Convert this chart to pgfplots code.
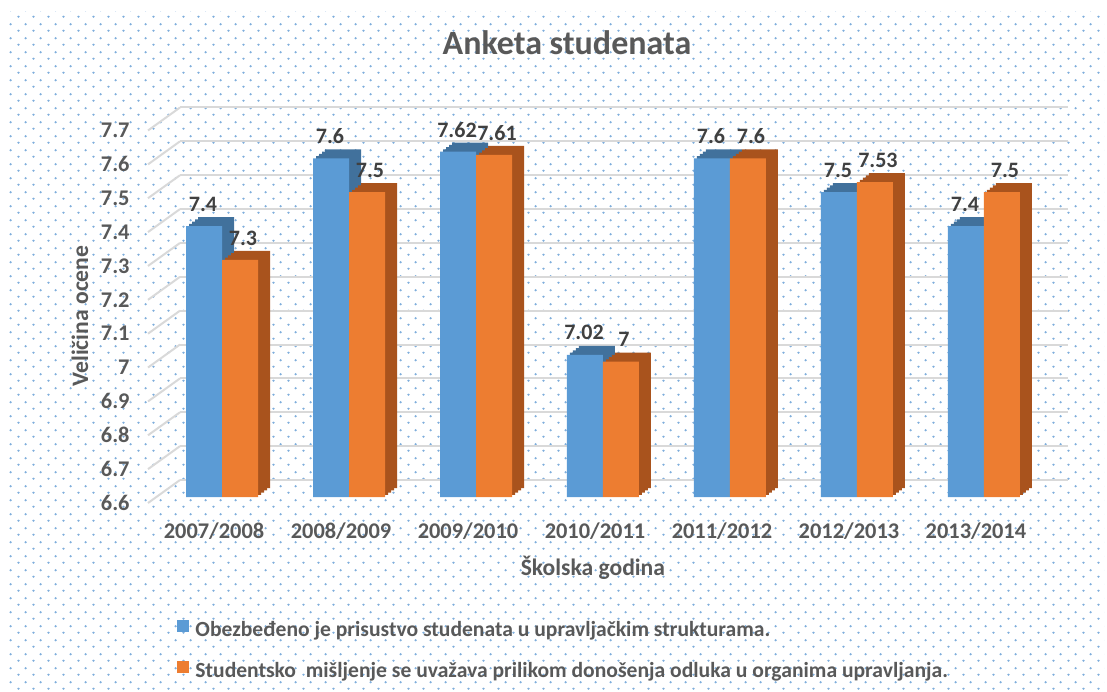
\documentclass[border=0pt]{standalone}
\usepackage{pgfplots}
\usepackage{pgfplotstable}
\pgfplotsset{compat=1.18}
\usepackage{fontspec}
\setmainfont{Carlito}
\usetikzlibrary{patterns}
\definecolor{sblue}{HTML}{5B9BD5}
\definecolor{sbluedark}{HTML}{41719C}
\definecolor{sorange}{HTML}{ED7D31}
\definecolor{sorangedark}{HTML}{A9531D}
\definecolor{txtgray}{HTML}{595959}
\definecolor{lblgray}{HTML}{404040}
\definecolor{gridc}{HTML}{D9D9D9}
\definecolor{dotc}{HTML}{7FAEDC}
\pgfdeclarepatternformonly{sparsedots}{\pgfqpoint{0pt}{0pt}}{\pgfqpoint{7.3pt}{7pt}}{\pgfqpoint{7.3pt}{7pt}}{%
  \pgfpathcircle{\pgfqpoint{1.8pt}{1.75pt}}{0.65pt}%
  \pgfpathcircle{\pgfqpoint{5.45pt}{5.25pt}}{0.65pt}%
  \pgfusepath{fill}}
\pgfplotstableread{
x blue orange
0 7.4  7.3
1 7.6  7.5
2 7.62 7.61
3 7.02 7.00
4 7.6  7.6
5 7.5  7.53
6 7.4  7.5
}\datatable
\begin{document}
\begin{tikzpicture}
\path[use as bounding box] (0pt,0pt) rectangle (553.5pt,345.5pt);
\fill[pattern=sparsedots, pattern color=dotc] (4pt,0pt) rectangle (552pt,339.5pt);
\begin{axis}[
  at={(74pt,97pt)}, anchor=south west,
  scale only axis, width=444pt, height=186.25pt,
  xmin=-0.583, xmax=6.41, ymin=6.6, ymax=7.7,
  y coord trafo/.code={\pgfmathparse{#1-6.6}},
  y coord inv trafo/.code={\pgfmathparse{#1+6.6}},
  clip=false,
  ybar, bar width=18pt,
  axis line style={draw=none}, tick style={draw=none}, major tick length=0pt,
  xtick={0,1,2,3,4,5,6},
  xticklabels={2007/2008,2008/2009,2009/2010,2010/2011,2011/2012,2012/2013,2013/2014},
  ytick={6.6,6.7,6.8,6.9,7.0,7.1,7.2,7.3,7.4,7.5,7.6,7.7},
  ymajorgrids, grid style={gridc, line width=1pt, xshift=16pt, yshift=8.5pt},
  /pgf/number format/assume math mode=true,
  tick label style={font=\bfseries\fontsize{11.2}{13}\selectfont, text=txtgray},
  yticklabel style={anchor=east, inner sep=0pt, xshift=-9pt, yshift=-3pt},
  xticklabel style={anchor=north, inner sep=0pt, yshift=-12.5pt, xshift=-4pt},
  title={Anketa studenata},
  title style={at={(axis description cs:0.4718,1.1866)}, anchor=center, font=\bfseries\fontsize{17}{20}\selectfont, text=txtgray},
  xlabel={Školska godina},
  xlabel style={at={(axis description cs:0.501,-0.19)}, anchor=center, font=\bfseries\fontsize{11.8}{14}\selectfont, text=txtgray},
  ylabel={Veličina ocene},
  ylabel style={at={(axis description cs:-0.0766,0.486)}, anchor=center, font=\bfseries\fontsize{11.8}{14}\selectfont, text=txtgray},
  legend style={at={(axis description cs:0.0327,-0.33)}, anchor=north west, draw=none, fill=none,
    inner sep=0pt, row sep=10pt, font=\bfseries\fontsize{10.8}{12}\selectfont, text=txtgray,
    nodes={inner sep=0pt, text height=7.5pt, text depth=2.5pt},
    /tikz/every odd column/.append style={column sep=3pt}},
  legend cell align=left,
  every node near coord/.append style={font=\bfseries\fontsize{11}{13}\selectfont, text=lblgray, anchor=center, yshift=11pt},
  point meta=explicit,
]
\pgfplotsinvokeforeach{6.6,6.7,6.8,6.9,7.0,7.1,7.2,7.3,7.4,7.5,7.6,7.7}{
  \draw[gridc, line width=1pt] ([yshift=-3pt]axis cs:-0.583,#1) -- ([xshift=16pt,yshift=8.5pt]axis cs:-0.583,#1);
}
% blue series: depth faces then front
\addplot[fill=sbluedark, draw=none, bar shift=-9pt, xshift=6pt, yshift=4.5pt, forget plot] table[x=x,y=blue,meta=blue]{\datatable};
\addplot[fill=sbluedark, draw=none, bar shift=-9pt, xshift=4.5pt, yshift=3.375pt, forget plot] table[x=x,y=blue,meta=blue]{\datatable};
\addplot[fill=sbluedark, draw=none, bar shift=-9pt, xshift=3pt, yshift=2.25pt, forget plot] table[x=x,y=blue,meta=blue]{\datatable};
\addplot[fill=sbluedark, draw=none, bar shift=-9pt, xshift=1.5pt, yshift=1.125pt, forget plot] table[x=x,y=blue,meta=blue]{\datatable};
\addplot[fill=sblue, draw=none, bar shift=-9pt, nodes near coords,
  every node near coord/.append style={xshift=-0.5pt},
  legend image code/.code={\fill[sblue] (0pt,-0.5pt) rectangle (6pt,5.5pt);}] table[x=x,y=blue,meta=blue]{\datatable};
\addlegendentry{Obezbeđeno je prisustvo studenata u upravljačkim strukturama.}
% orange series
\addplot[fill=sorangedark, draw=none, bar shift=9pt, xshift=6pt, yshift=4.5pt, forget plot] table[x=x,y=orange,meta=orange]{\datatable};
\addplot[fill=sorangedark, draw=none, bar shift=9pt, xshift=4.5pt, yshift=3.375pt, forget plot] table[x=x,y=orange,meta=orange]{\datatable};
\addplot[fill=sorangedark, draw=none, bar shift=9pt, xshift=3pt, yshift=2.25pt, forget plot] table[x=x,y=orange,meta=orange]{\datatable};
\addplot[fill=sorangedark, draw=none, bar shift=9pt, xshift=1.5pt, yshift=1.125pt, forget plot] table[x=x,y=orange,meta=orange]{\datatable};
\addplot[fill=sorange, draw=none, bar shift=9pt, nodes near coords,
  every node near coord/.append style={xshift=1.5pt},
  legend image code/.code={\fill[sorange] (0pt,-0.5pt) rectangle (6pt,5.5pt);}] table[x=x,y=orange,meta=orange]{\datatable};
\addlegendentry{Studentsko\ \ mišljenje se uvažava prilikom donošenja odluka u organima upravljanja.}
\end{axis}
\end{tikzpicture}
\end{document}
